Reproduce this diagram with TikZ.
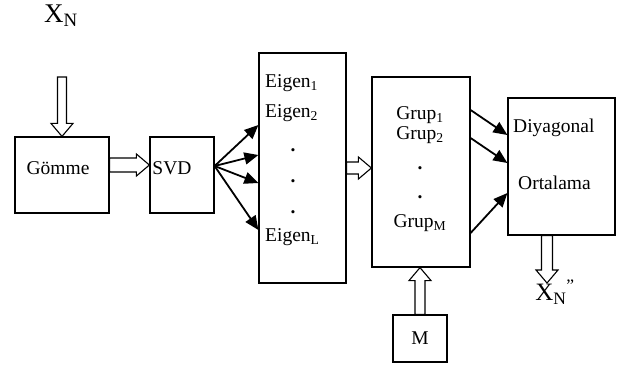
\documentclass[tikz,border=0pt]{standalone}
\usepackage{fontspec}
\setmainfont{Liberation Serif}
\usetikzlibrary{arrows.meta,calc}
\tikzset{
blok/.style={draw,line width=1.2pt,inner sep=0pt},
yazi/.style={font=\fontsize{19.5}{22}\selectfont,inner sep=0pt},
nokta/.style={font=\fontsize{19.5}{22}\selectfont\bfseries,inner sep=0pt},
ok/.style={line width=1.8pt,-{Triangle[length=14pt,width=12pt]}},
govde/.store in=\govde,govde=5,
hollow/.style={line width=1.1pt,to path={
let \p1=(\tikztostart),\p2=(\tikztotarget),\n1={atan2(\y2-\y1,\x2-\x1)} in
($(\p1)+(\n1+90:\govde pt)$)--($(\p2)+(\n1+180:13pt)+(\n1+90:\govde pt)$)
--($(\p2)+(\n1+180:13pt)+(\n1+90:11pt)$)--(\p2)
--($(\p2)+(\n1+180:13pt)+(\n1-90:11pt)$)--($(\p2)+(\n1+180:13pt)+(\n1-90:\govde pt)$)
--($(\p1)+(\n1-90:\govde pt)$)--cycle}}
}
\begin{document}
\begin{tikzpicture}[x=1pt,y=-1pt]
\useasboundingbox (0,0) rectangle (628,368);
\node[blok,minimum width=94pt,minimum height=76pt](gomme) at (62,175){};
\node[blok,minimum width=64pt,minimum height=76pt](svd) at (182,175){};
\node[blok,minimum width=87pt,minimum height=230pt](eig) at (302.5,168){};
\node[blok,minimum width=98pt,minimum height=190pt](grup) at (421,172){};
\node[blok,minimum width=107pt,minimum height=137pt](dia) at (561.5,166.5){};
\node[blok,yazi,minimum width=54pt,minimum height=47pt](m) at (420,338.5){M};
\node[inner sep=0pt,font=\fontsize{27}{29}\selectfont](xin) at (61,16){X\textsubscript{N}};
\node[inner sep=0pt,font=\fontsize{25}{27}\selectfont](xout) at (555,292){X\textsubscript{N}\textsuperscript{''}};
\coordinate (giris) at (62,77);
\coordinate (cikis) at (547,283);
\draw(58,168)node[yazi]{Gömme};
\draw(172,168)node[yazi]{SVD};
\draw(265,83)node[yazi,anchor=west]{Eigen\textsubscript{1}}
(265,113)node[yazi,anchor=west]{Eigen\textsubscript{2}}
(265,237)node[yazi,anchor=west]{Eigen\textsubscript{L}};
\foreach \y in {150,181,212} \draw(293,\y)node[nokta]{.};
\draw(420,115)node[yazi]{Grup\textsubscript{1}}
(420,135)node[yazi]{Grup\textsubscript{2}}
(420,223)node[yazi]{Grup\textsubscript{M}};
\foreach \y in {168,197} \draw(420,\y)node[nokta]{.};
\draw(513,128)node[yazi,anchor=west]{Diyagonal}
(518,183)node[yazi,anchor=west]{Ortalama};
\draw[hollow,govde=4.5](giris) to (gomme.north);
\draw[hollow,govde=7]([yshift=10pt]gomme.east) to ([yshift=10pt]svd.west);
\draw[hollow,govde=6](eig.east) to (eig.east -| grup.west);
\draw[hollow,govde=5](m.north) to (m.north |- grup.south);
\draw[hollow,govde=5.5]([xshift=-14.5pt]dia.south) to (cikis);
\foreach \y in {125,155,183,230} \draw[ok]([yshift=9pt]svd.east)--(eig.west |- 0,\y);
\foreach \a/\b in {110/135,138/163,233/193} \draw[ok](grup.east |- 0,\a)--(dia.west |- 0,\b);
\end{tikzpicture}
\end{document}
